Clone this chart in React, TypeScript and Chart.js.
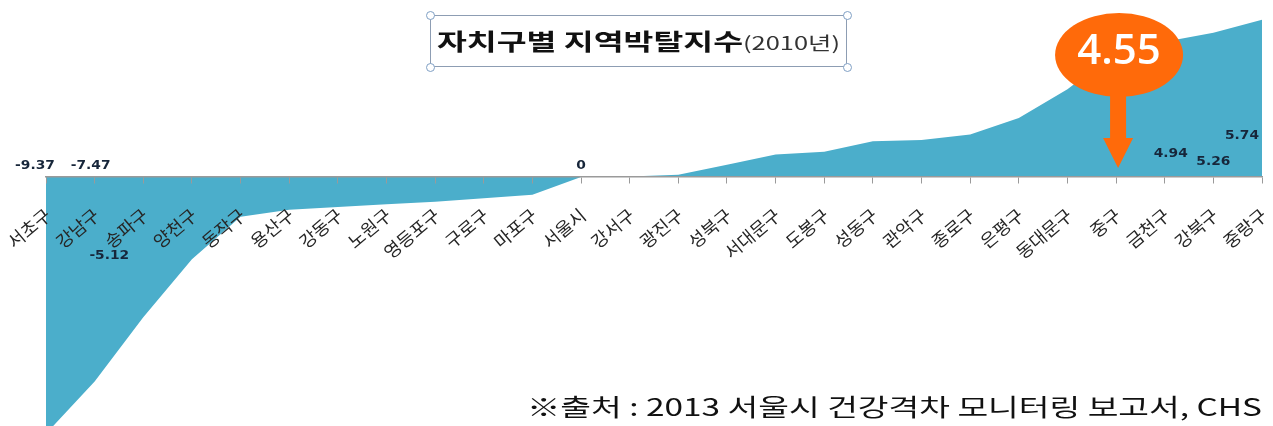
import React, { useEffect, useLayoutEffect, useRef } from "react";
import { Chart, registerables } from "chart.js";

Chart.register(...registerables);

const districts = [
  "서초구", "강남구", "송파구", "양천구", "동작구", "용산구", "강동구", "노원구",
  "영등포구", "구로구", "마포구", "서울시", "강서구", "광진구", "성북구", "서대문구",
  "도봉구", "성동구", "관악구", "종로구", "은평구", "동대문구", "중구", "금천구",
  "강북구", "중랑구",
];

const deprivationIndex = [
  -9.37, -7.47, -5.12, -3.0, -1.45, -1.2, -1.1, -1.0,
  -0.9, -0.78, -0.65, 0, 0.02, 0.08, 0.45, 0.82,
  0.92, 1.3, 1.35, 1.55, 2.15, 3.2, 4.55, 4.94,
  5.26, 5.74,
];

const labeledIndices = [0, 1, 2, 11, 23, 24, 25];
const highlightIndex = 22;

const titleMain = "자치구별 지역박탈지수";
const titleSub = "(2010년)";
const sourceText = "※출처 : 2013 서울시 건강격차 모니터링 보고서, CHS";

const yMin = -9.09;
const yMax = 6.46;

const AREA = "rgb(75,174,203)";
const ORANGE = "#ff6a0a";

// label offsets (px) relative to the data x / zero line
const labelOffsets: Record<number, [number, number]> = {
  0: [-11, -11],
  1: [-4, -11],
  2: [-34, 79],
  11: [0, -11],
  23: [6, -23],
  24: [0, -15],
  25: [-20, -41],
};

const annotationPlugin = {
  id: "annotations",
  afterDraw(chart: any) {
    const ctx = chart.ctx;
    const xs = chart.scales.x;
    const ys = chart.scales.y;
    const zero = ys.getPixelForValue(0);
    ctx.save();
    ctx.font = "bold 12px 'DejaVu Sans'";
    ctx.fillStyle = "#17263a";
    ctx.textAlign = "center";
    ctx.textBaseline = "middle";
    labeledIndices.forEach((i) => {
      const [dx, dy] = labelOffsets[i];
      const px = xs.getPixelForValue(i) + dx;
      const py = zero + dy;
      ctx.save();
      ctx.translate(px, py);
      ctx.scale(1.15, 1);
      ctx.fillText(String(deprivationIndex[i]), 0, 0);
      ctx.restore();
    });

    // callout
    const cx = xs.getPixelForValue(highlightIndex) + 3;
    const cy = zero - 122;
    ctx.fillStyle = ORANGE;
    ctx.beginPath();
    ctx.ellipse(cx, cy, 64, 42, 0, 0, Math.PI * 2);
    ctx.fill();
    const tipX = xs.getPixelForValue(highlightIndex) + 2;
    const tipY = zero - 9;
    ctx.beginPath();
    ctx.moveTo(tipX - 8, cy + 38);
    ctx.lineTo(tipX + 8, cy + 38);
    ctx.lineTo(tipX + 8, tipY - 30);
    ctx.lineTo(tipX + 15, tipY - 30);
    ctx.lineTo(tipX, tipY);
    ctx.lineTo(tipX - 15, tipY - 30);
    ctx.lineTo(tipX - 8, tipY - 30);
    ctx.closePath();
    ctx.fill();
    ctx.fillStyle = "#ffffff";
    ctx.font = "600 42px 'Open Sans'";
    ctx.fillText(String(deprivationIndex[highlightIndex]), cx, cy - 3);
    ctx.restore();
  },
};

function FitText(props: { width: number; children: React.ReactNode; style?: React.CSSProperties; origin: string }) {
  const ref = useRef<HTMLSpanElement | null>(null);
  useLayoutEffect(() => {
    const el = ref.current;
    if (!el) return;
    el.style.transform = "none";
    const w = el.getBoundingClientRect().width;
    if (w > 0) el.style.transform = `scaleX(${props.width / w})`;
  });
  return (
    <span ref={ref} style={{ display: "inline-block", whiteSpace: "nowrap", transformOrigin: props.origin, ...props.style }}>
      {props.children}
    </span>
  );
}

export default function App() {
  const ref = useRef<HTMLCanvasElement | null>(null);
  useEffect(() => {
    if (!ref.current) return;
    const chart = new Chart(ref.current, {
      type: "line",
      data: {
        labels: districts,
        datasets: [
          {
            data: deprivationIndex,
            fill: "origin",
            backgroundColor: AREA,
            borderColor: AREA,
            borderWidth: 0,
            pointRadius: 0,
            tension: 0,
          },
        ],
      },
      options: {
        responsive: false,
        animation: false,
        layout: { padding: { left: 46, right: 11, top: 0, bottom: 0 } },
        plugins: {
          legend: { display: false },
          tooltip: { enabled: false },
          title: { display: false },
        },
        scales: {
          x: {
            type: "category",
            position: { y: 0 } as any,
            offset: false,
            afterFit(scale: any) {
              scale.paddingLeft = 0;
              scale.paddingRight = 0;
            },
            grid: { drawOnChartArea: false, drawTicks: true, tickLength: 6, color: "#9a9a9a", z: 1 },
            border: { display: true, color: "#9a9a9a", width: 1.5, z: 1 },
            ticks: {
              autoSkip: false,
              minRotation: 40,
              maxRotation: 40,
              color: "#262626",
              padding: 21,
              labelOffset: 2,
              z: 1,
              font: { family: "'Noto Sans CJK KR'", size: 18 },
            },
          },
          y: { display: false, min: yMin, max: yMax },
        },
      },
      plugins: [annotationPlugin],
    } as any);
    return () => chart.destroy();
  }, []);

  const handle = (left: number, top: number) => (
    <div
      style={{
        position: "absolute",
        left: left - 4,
        top: top - 4,
        width: 7,
        height: 7,
        borderRadius: "50%",
        border: "1px solid #7f9fc4",
        background: "#ffffff",
      }}
    />
  );

  return (
    <div style={{ position: "absolute", left: 0, top: 0, width: 1273, height: 426, background: "#fff", overflow: "hidden" }}>
      <canvas ref={ref} width={1273} height={426} style={{ position: "absolute", left: 0, top: 0 }} />
      <div
        style={{
          position: "absolute",
          left: 430,
          top: 15,
          width: 417,
          height: 52,
          boxSizing: "border-box",
          border: "1.5px solid #8d9db3",
        }}
      />
      <div style={{ position: "absolute", left: 437, top: 22, height: 36, lineHeight: "36px", fontFamily: "'Noto Sans CJK KR'" }}>
        <FitText width={403} origin="left center">
          <span style={{ fontWeight: 700, fontSize: 23, color: "#111" }}>{titleMain}</span>
          <span style={{ fontSize: 18, color: "#333" }}>{titleSub}</span>
        </FitText>
      </div>
      {handle(430, 15)}
      {handle(847, 15)}
      {handle(430, 67)}
      {handle(847, 67)}
      <div
        style={{
          position: "absolute",
          left: 527,
          top: 390,
          lineHeight: "32px",
          fontFamily: "'Noto Sans CJK KR'",
          fontSize: 24,
          color: "#111",
        }}
      >
        <FitText width={735} origin="left center">
          {sourceText}
        </FitText>
      </div>
    </div>
  );
}
